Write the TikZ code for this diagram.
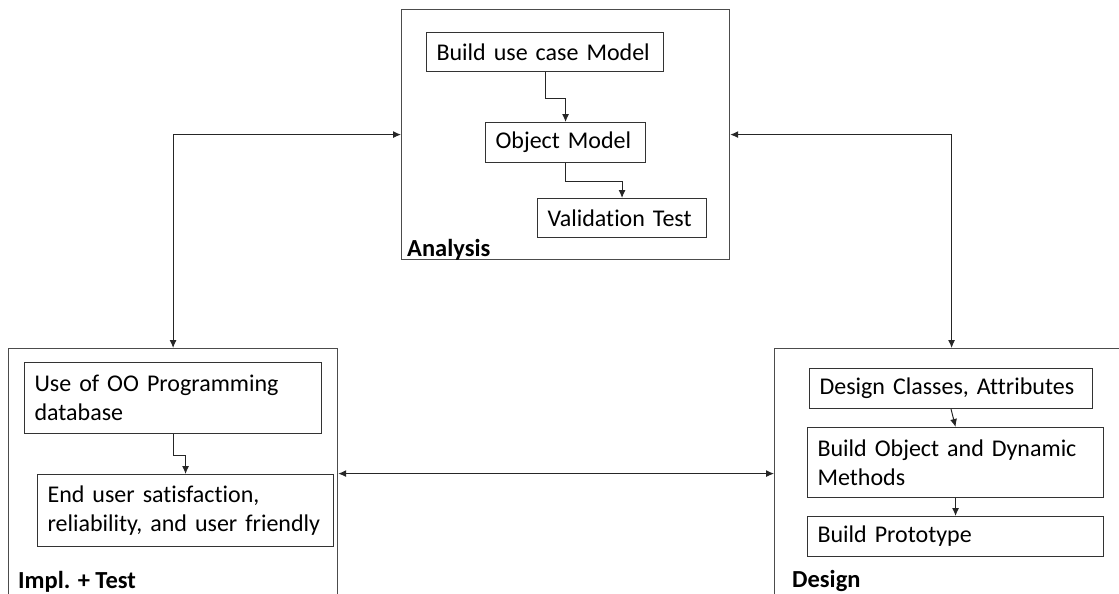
\documentclass[tikz,border=0pt]{standalone}
\usepackage{fontspec}
\setmainfont{Carlito}[Ligatures=NoCommon]
\usetikzlibrary{arrows.meta}
\begin{document}
\begin{tikzpicture}[x=1pt,y=-1pt,>={Latex[length=8pt,width=7pt]},
frame/.style={draw=black!70,line width=1.2pt,anchor=north west,inner sep=0pt},
box/.style={draw=black!80,line width=1.1pt,anchor=north west,align=left,inner xsep=10pt,inner ysep=0pt,font=\fontsize{24}{29}\selectfont},
lbl/.style={anchor=base west,inner sep=0pt,font=\fontsize{24.5}{29}\selectfont\bfseries},
link/.style={line width=1pt,black!85}]
\clip (0,0) rectangle (1119,594);
\node[frame,minimum width=328pt,minimum height=250pt] (analysis) at (401,9) {};
\node[frame,minimum width=329pt,minimum height=250pt] (impl) at (8,348) {};
\node[frame,minimum width=354pt,minimum height=250pt] (design) at (774,348) {};
\node[box,text width=217pt,minimum height=39pt] (usecase) at (426,32) {Build use case Model};
\node[box,text width=140pt,minimum height=40pt] (objmodel) at (485,122) {Object Model};
\node[box,text width=149pt,minimum height=39pt] (validation) at (537,198) {Validation Test};
\node[box,text width=277pt,minimum height=71pt] (oouse) at (24,362) {Use of OO Programming\\database};
\node[box,text width=276pt,minimum height=72pt] (enduser) at (37,474) {End user satisfaction,\\reliability, and user friendly};
\node[box,text width=263pt,minimum height=40pt] (dclasses) at (809,368) {Design Classes, Attributes};
\node[box,text width=276pt,minimum height=70pt] (bobject) at (807,427) {Build Object and Dynamic\\Methods};
\node[box,text width=276pt,minimum height=40pt] (proto) at (807,516) {Build Prototype};
\node[lbl] (analysislbl) at (407,256) {Analysis};
\node[lbl] (impllbl) at (18,588) {Impl. + Test};
\node[lbl] (designlbl) at (792,587) {Design};
\draw[link,<->] (analysis.west) -| (impl.north);
\draw[link,<->] (analysis.east) -| (design.north);
\draw[link,<->] (impl.east) -- (design.west);
\draw[link,->] (usecase.south) -- ++(0,26) -| (objmodel.north);
\draw[link,->] (objmodel.south) -- ++(0,18) -| (validation.north);
\draw[link,->] (oouse.south) -- ++(0,21) -| (enduser.north);
\draw[link,->] (dclasses.south) -- (bobject.north);
\draw[link,->] (bobject.south) -- (proto.north);
\end{tikzpicture}
\end{document}
